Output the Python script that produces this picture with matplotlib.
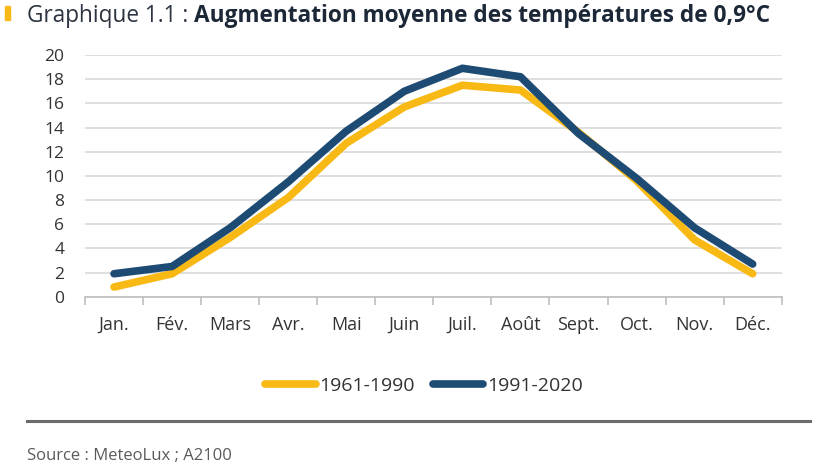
import matplotlib
matplotlib.use("Agg")
import matplotlib.pyplot as plt
from matplotlib.ticker import FixedLocator
import numpy as np

months = ["Jan.", "Fév.", "Mars", "Avr.", "Mai", "Juin", "Juil.", "Août", "Sept.", "Oct.", "Nov.", "Déc."]
t_1961_1990 = [0.8, 1.9, 4.9, 8.2, 12.7, 15.7, 17.5, 17.1, 13.6, 9.6, 4.7, 1.9]
t_1991_2020 = [1.9, 2.5, 5.7, 9.5, 13.7, 17.0, 18.9, 18.2, 13.5, 9.8, 5.7, 2.7]
series_labels = ["1961-1990", "1991-2020"]
yticks = list(range(0, 21, 2))

YELLOW = "#F9B914"
NAVY = "#1E4B73"
TEXT = "#333333"

plt.rcParams['font.family'] = ['Open Sans', 'DejaVu Sans']

W, H = 820, 471
fig = plt.figure(figsize=(W / 100, H / 100), dpi=100)
ax = fig.add_axes([85 / W, 1 - 296.7 / H, (781.7 - 85) / W, (296.7 - 55) / H])

x = np.arange(len(months))
l1, = ax.plot(x, t_1961_1990, color=YELLOW, lw=5.5, solid_capstyle='round', solid_joinstyle='round', label=series_labels[0], zorder=3)
l2, = ax.plot(x, t_1991_2020, color=NAVY, lw=5.5, solid_capstyle='round', solid_joinstyle='round', label=series_labels[1], zorder=4)

ax.set_xlim(-0.5, len(months) - 0.5)
ax.set_ylim(0, 20)
ax.set_yticks(yticks)
ax.set_yticklabels([str(v) for v in yticks])
ax.grid(axis='y', color='#d9d9d9', lw=1.2, zorder=0)
ax.set_axisbelow(True)
for s in ['left', 'right', 'top']:
    ax.spines[s].set_visible(False)
ax.spines['bottom'].set_color('#bfbfbf')
ax.spines['bottom'].set_linewidth(1.2)

ax.set_xticks(x)
ax.set_xticklabels(months)
ax.xaxis.set_minor_locator(FixedLocator(np.arange(-0.5, len(months), 1.0)))
ax.tick_params(axis='x', which='major', length=0, pad=14, labelsize=13, labelcolor=TEXT)
ax.tick_params(axis='x', which='minor', length=6, width=1.2, color='#bfbfbf', direction='out')
ax.tick_params(axis='y', length=0, pad=15, labelsize=12.5, labelcolor=TEXT)
for lab in ax.get_yticklabels():
    lab.set_horizontalalignment('right')

leg = fig.legend(handles=[l1, l2], loc='center', bbox_to_anchor=(424 / W, 1 - 386 / H),
                 ncol=2, frameon=False, fontsize=14, handlelength=2.6, handletextpad=0.2,
                 columnspacing=0.9, labelcolor=TEXT)
for h in leg.legend_handles:
    h.set_linewidth(5.5)

# title
fig.patches.append(plt.Rectangle((5 / W, 1 - 20 / H), 5 / W, 14 / H, transform=fig.transFigure,
                                 color=YELLOW, figure=fig))
t1 = fig.text(27 / W, 1 - 22 / H, "Graphique 1.1 : ", fontsize=16.3, color="#2b3440", ha='left', va='baseline')
fig.canvas.draw()
r = fig.canvas.get_renderer()
bb = t1.get_window_extent(r)
fig.text(bb.x1 / W, 1 - 22 / H, "Augmentation moyenne des températures de 0,9°C", fontsize=16.3,
         fontweight='bold', color="#1c2838", ha='left', va='baseline')

# separator and source
fig.add_artist(plt.Line2D([27 / W, 810 / W], [1 - 421 / H, 1 - 421 / H], transform=fig.transFigure,
                          color='#6b6b6b', lw=2.2))
fig.text(27 / W, 1 - 456 / H, "Source : MeteoLux ; A2100", fontsize=12, color='#5a5a5a', ha='left', va='center')

fig.savefig("out.png", dpi=100)
